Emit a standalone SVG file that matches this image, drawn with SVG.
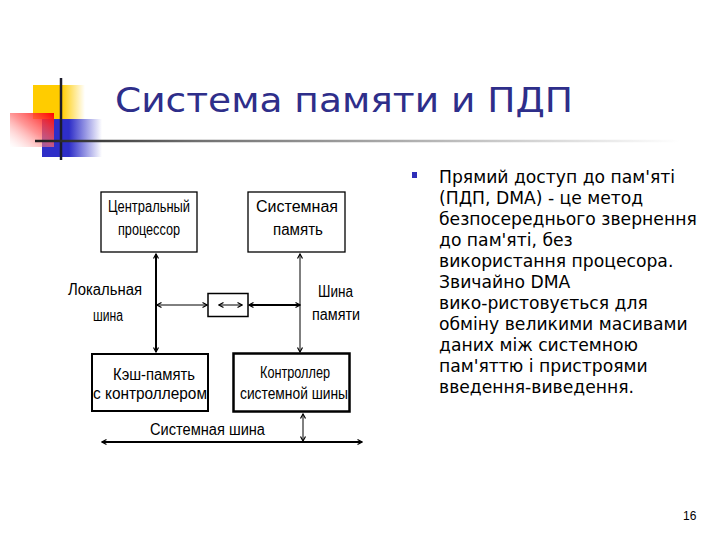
<svg xmlns="http://www.w3.org/2000/svg" width="720" height="540" viewBox="0 0 720 540">
<defs>
<linearGradient id="gy" x1="0" y1="0" x2="1" y2="0">
<stop offset="0" stop-color="#FFCC00"/><stop offset="0.55" stop-color="#FFCC00"/><stop offset="1" stop-color="#FFCC00" stop-opacity="0"/>
</linearGradient>
<linearGradient id="gb" x1="0" y1="0" x2="1" y2="0">
<stop offset="0" stop-color="#2E2EC8"/><stop offset="0.45" stop-color="#2E2EC8"/><stop offset="1" stop-color="#2E2EC8" stop-opacity="0"/>
</linearGradient>
<linearGradient id="gr" x1="1" y1="0" x2="0" y2="1">
<stop offset="0" stop-color="#FF0000"/><stop offset="0.5" stop-color="#FF6A6A" stop-opacity="0.7"/><stop offset="1" stop-color="#FFC0C0" stop-opacity="0"/>
</linearGradient>
<linearGradient id="gl" gradientUnits="userSpaceOnUse" x1="35" y1="0" x2="680" y2="0">
<stop offset="0" stop-color="#1E1E1E"/><stop offset="0.25" stop-color="#707070"/><stop offset="1" stop-color="#FFFFFF"/>
</linearGradient>
<marker id="ah" viewBox="-6 -4 7 8" refX="0" refY="0" markerWidth="7" markerHeight="8" markerUnits="userSpaceOnUse" orient="auto-start-reverse">
<path d="M-4.5,-2.5 L0,0 L-4.5,2.5" fill="none" stroke="#000" stroke-width="1.2"/>
</marker>
<style>
.t{font-family:"Liberation Sans",Arial,sans-serif;font-size:16px;fill:#000}
.b{font-family:"DejaVu Sans",Verdana,sans-serif;font-size:17.2px;fill:#000}
.box{fill:#fff;stroke:#000}
.ln{stroke:#000;fill:none;marker-start:url(#ah);marker-end:url(#ah)}
</style>
</defs>
<rect width="720" height="540" fill="#fff"/>
<g id="logo">
<rect x="33" y="85" width="52" height="34" fill="url(#gy)"/>
<rect x="42" y="119" width="60" height="38" fill="url(#gb)"/>
<rect x="10" y="113" width="44" height="34" fill="url(#gr)"/>
<line x1="61" y1="78" x2="61" y2="160" stroke="#1C1C2C" stroke-width="2.5"/>
<line x1="35" y1="141" x2="680" y2="141" stroke="url(#gl)" stroke-width="2.5"/>
</g>
<text id="title" x="115" y="112" font-family="DejaVu Sans, Verdana, sans-serif" font-size="34" fill="#2E2E8A" textLength="458" lengthAdjust="spacingAndGlyphs">Система памяти и ПДП</text>
<g id="body">
<rect x="412" y="172" width="5" height="6" fill="#2E2EB8"/>
<text class="b" x="439" y="183">Прямий доступ до пам'яті</text>
<text class="b" x="439" y="204">(ПДП, DMA) - це метод</text>
<text class="b" x="439" y="225">безпосереднього звернення</text>
<text class="b" x="439" y="246">до пам'яті, без</text>
<text class="b" x="439" y="267">використання процесора.</text>
<text class="b" x="439" y="288">Звичайно DMA</text>
<text class="b" x="439" y="309">вико-ристовується для</text>
<text class="b" x="439" y="330">обміну великими масивами</text>
<text class="b" x="439" y="351">даних між системною</text>
<text class="b" x="439" y="372">пам'яттю і пристроями</text>
<text class="b" x="439" y="393">введення-виведення.</text>
</g>
<g id="connectors">
<line class="ln" x1="156" y1="254" x2="156" y2="352" stroke-width="2"/>
<line class="ln" x1="300" y1="254" x2="300" y2="352" stroke-width="1"/>
<line class="ln" x1="157" y1="305" x2="207" y2="305" stroke-width="1"/>
<line class="ln" x1="249" y1="305" x2="300" y2="305" stroke-width="2"/>
<line class="ln" x1="303" y1="414" x2="303" y2="441" stroke-width="1"/>
<line class="ln" x1="102" y1="442" x2="362" y2="442" stroke-width="2"/>
</g>
<g id="cpu">
<rect class="box" x="101" y="192" width="96" height="60" stroke-width="1.3"/>
<text class="t" x="108" y="212" textLength="82" lengthAdjust="spacingAndGlyphs">Центральный</text>
<text class="t" x="118" y="235" textLength="62" lengthAdjust="spacingAndGlyphs">процессор</text>
</g>
<g id="sysmem">
<rect class="box" x="248" y="192" width="97" height="60" stroke-width="1.3"/>
<text class="t" x="256" y="212" textLength="82" lengthAdjust="spacingAndGlyphs">Системная</text>
<text class="t" x="273" y="235" textLength="50" lengthAdjust="spacingAndGlyphs">память</text>
</g>
<g id="dma">
<rect class="box" x="208" y="293.5" width="40" height="23" stroke-width="1.5"/>
<line class="ln" x1="219" y1="305" x2="242" y2="305" stroke-width="1"/>
</g>
<g id="cache">
<rect class="box" x="92" y="354" width="116" height="57" stroke-width="2"/>
<text class="t" x="113" y="380" textLength="82" lengthAdjust="spacingAndGlyphs">Кэш-память</text>
<text class="t" x="93" y="399" textLength="114" lengthAdjust="spacingAndGlyphs">с контроллером</text>
</g>
<g id="busctl">
<rect class="box" x="233.5" y="353.5" width="116" height="58" stroke-width="2.5"/>
<text class="t" x="260" y="378" textLength="70" lengthAdjust="spacingAndGlyphs">Контроллер</text>
<text class="t" x="240" y="399" textLength="108" lengthAdjust="spacingAndGlyphs">системной шины</text>
</g>
<g id="labels">
<text class="t" x="68" y="295" textLength="74" lengthAdjust="spacingAndGlyphs">Локальная</text>
<text class="t" x="93" y="321" textLength="30" lengthAdjust="spacingAndGlyphs">шина</text>
<text class="t" x="318" y="297" textLength="35" lengthAdjust="spacingAndGlyphs">Шина</text>
<text class="t" x="312" y="320" textLength="48" lengthAdjust="spacingAndGlyphs">памяти</text>
<text class="t" x="150" y="435" textLength="115" lengthAdjust="spacingAndGlyphs">Системная шина</text>
</g>
<text id="page" x="683" y="520" font-family="Liberation Sans, Arial, sans-serif" font-size="12" fill="#000">16</text>
</svg>
